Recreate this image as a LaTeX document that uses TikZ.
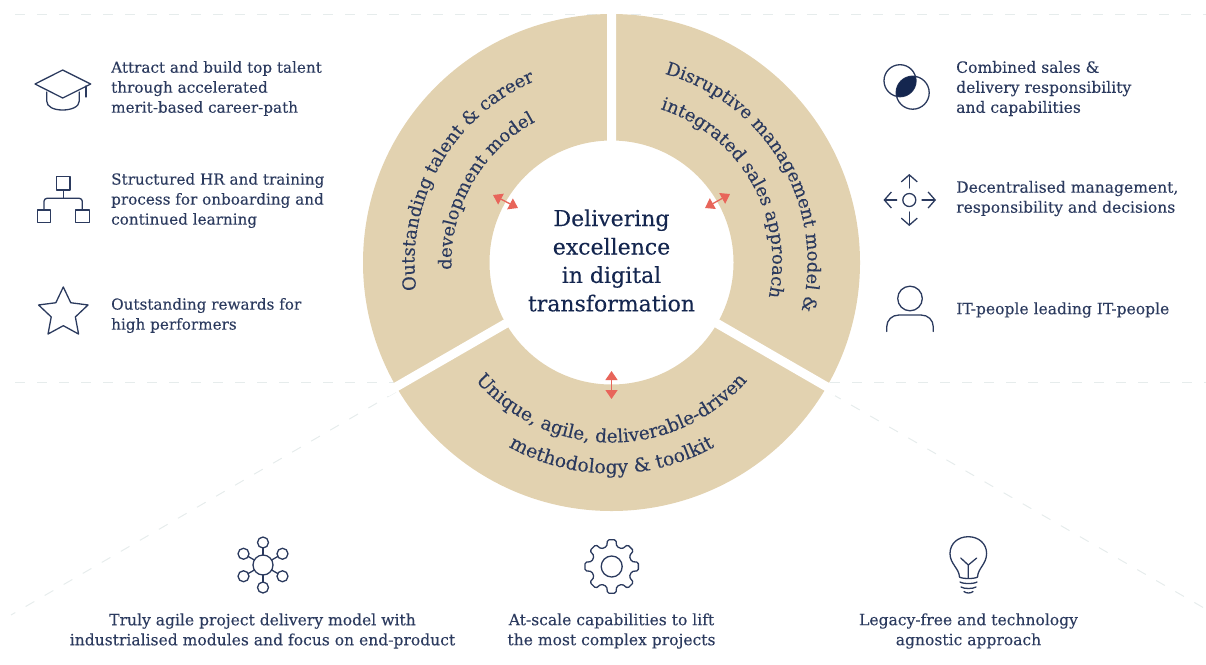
\documentclass[tikz,border=0pt]{standalone}
\usepackage{fontspec}
\usetikzlibrary{decorations.text,arrows.meta,shapes.geometric}
\newfontfamily\slab[FakeBold=0.15]{DejaVu Serif}
\definecolor{ink}{HTML}{2B3A5E}
\definecolor{navy}{HTML}{14264F}
\definecolor{sand}{HTML}{E2D2B0}
\definecolor{coral}{HTML}{E8655A}
\definecolor{dashc}{HTML}{E6ECEC}
\newcommand{\bodyf}{\slab\fontsize{15.2}{20}\selectfont}
\newcommand{\bodyg}{\slab\fontsize{15.55}{20}\selectfont}
\newcommand{\segf}{\slab\fontsize{18}{20}\selectfont\color{ink}}
\newcommand{\segg}{\slab\fontsize{18.5}{20}\selectfont\color{ink}}
\newcommand{\segh}{\slab\fontsize{19}{20}\selectfont\color{ink}}
\tikzset{
  label/.style={font=\bodyf,text=ink,align=left,anchor=west,inner sep=0pt},
  labelr/.style={font=\bodyg,text=ink,align=left,anchor=west,inner sep=0pt},
  labelc/.style={font=\bodyg,text=ink,align=center,anchor=center,inner sep=0pt},
  icon/.style={draw=ink,line width=1.3pt,line join=round,line cap=round,fill=none},
  guide/.style={draw=dashc,line width=1pt,dash pattern=on 10pt off 12pt},
  twoway/.style={draw=coral,line width=1.3pt,{Triangle[length=9pt,width=12pt]}-{Triangle[length=9pt,width=12pt]}},
  seg/.style={decorate,decoration={text along path,text align=center,text={#1}}},
  pointer/.style={icon,-{Straight Barb[length=7pt,width=16pt,line width=1.3pt]}}
}
\begin{document}
\begin{tikzpicture}[x=1pt,y=-1pt]
\useasboundingbox (0,0) rectangle (1206,664);
% guides
\coordinate (gt0) at (15,14); \coordinate (gt1) at (1206,14);
\coordinate (gl0) at (15,382); \coordinate (gl1) at (395,382);
\coordinate (gr0) at (830,382); \coordinate (gr1) at (1206,382);
\coordinate (dl0) at (396,392); \coordinate (dl1) at (11,615);
\coordinate (dr0) at (832,394); \coordinate (dr1) at (1204,608);
\foreach \a/\b in {gt0/gt1,gl0/gl1,gr0/gr1,dl0/dl1,dr0/dr1}{\draw[guide] (\a) -- (\b);}
% ring
\coordinate (c) at (611.5,262.5);
\begin{scope}[x=1pt,y=1pt,shift={(c)}]
  \fill[sand,even odd rule] (0,0) circle (248.5pt) (0,0) circle (122pt);
  \draw[white,line width=9pt] (0,0) -- (90:260) (0,0) -- (210:260) (0,0) -- (330:260);
  \fill[white] (0,0) circle (121pt);
  % left
  \path[seg={|\segf|Outstanding talent {\&} career}] (197:197) arc[start angle=197,end angle=104,radius=197pt];
  \path[seg={|\segf|development model}] (192:160) arc[start angle=192,end angle=109,radius=160pt];
  % right
  \path[seg={|\segf|Disruptive management model {\&}}] (85:196) arc[start angle=85,end angle=-25,radius=196pt];
  \path[seg={|\segf|integrated sales approach}] (83:161) arc[start angle=83,end angle=-23,radius=161pt];
  % bottom
  \path[seg={|\segg|Unique, agile, deliverable-driven}] (200:180) arc[start angle=200,end angle=340,radius=180pt];
  \path[seg={|\segh|methodology {\&} toolkit}] (225:211) arc[start angle=225,end angle=315,radius=211pt];
\end{scope}
\node[font=\slab\fontsize{22}{28.4}\selectfont,text=navy,align=center,inner sep=0pt] (hub) at (611.5,260.5) {Delivering\\excellence\\in digital\\transformation};
% arrows
\coordinate (a1) at (493,195); \coordinate (a2) at (518,208);
\coordinate (b1) at (730,194); \coordinate (b2) at (705,208);
\coordinate (d1) at (611.5,371); \coordinate (d2) at (611.5,399);
\draw[twoway] (a1) -- (a2);
\draw[twoway] (b1) -- (b2);
\draw[twoway] (d1) -- (d2);
% left labels
\node[label] (l1) at (111,88.5) {Attract and build top talent\\through accelerated\\merit-based career-path};
\node[label] (l2) at (111,200.5) {Structured HR and training\\process for onboarding and\\continued learning};
\node[label] (l3) at (111,315.5) {Outstanding rewards for\\high performers};
% right labels
\node[labelr] (r1) at (956,88.5) {Combined sales {\&}\\delivery responsibility\\and capabilities};
\node[labelr] (r2) at (956,198.5) {Decentralised management,\\responsibility and decisions};
\node[labelr] (r3) at (956,310) {IT-people leading IT-people};
% bottom labels
\node[labelc] (b1t) at (262.5,631) {Truly agile project delivery model with\\industrialised modules and focus on end-product};
\node[labelc] (b2t) at (611.5,631) {At-scale capabilities to lift\\the most complex projects};
\node[labelc] (b3t) at (968.5,631) {Legacy-free and technology\\agnostic approach};
% cap
\draw[icon] (62.7,70) -- (90.7,84) -- (62.7,98) -- (35,84) -- cycle;
\draw[icon] (46.7,92) -- (46.7,101) .. controls (46.7,107) and (54,110) .. (62.7,110) .. controls (71,110) and (79.3,107) .. (79.3,101) -- (79.3,92);
\draw[icon] (86,86) -- (86,97);
% org
\draw[icon] (56.7,176.7) rectangle (70,190);
\draw[icon] (37.3,210) rectangle (50.7,222.7);
\draw[icon] (75.3,210) rectangle (89.3,222.7);
\draw[icon] (63.3,190) -- (63.3,198.3);
\draw[icon,rounded corners=3pt] (44,210) -- (44,198.3) -- (82.3,198.3) -- (82.3,210);
% star
\node[star,star points=5,star point ratio=2.05,minimum size=52pt,inner sep=0pt,icon] (st) at (63.3,313) {};
% circles
\draw[icon] (900,80.7) circle (16pt);
\draw[icon] (912.7,92.7) circle (16.5pt);
\begin{scope}
  \clip (900,80.7) circle (16pt);
  \fill[navy] (912.7,92.7) circle (16.5pt);
\end{scope}
% decentral
\draw[icon] (909.3,200) circle (6.5pt);
\coordinate (ic0) at (909.3,188); \coordinate (ic1) at (909.3,174);
\coordinate (ic2) at (896.7,200); \coordinate (ic3) at (883.5,200);
\coordinate (ic4) at (922,200); \coordinate (ic5) at (936,200);
\coordinate (ic6) at (909.3,212); \coordinate (ic7) at (909.3,226);
\draw[pointer] (ic0) -- (ic1);
\draw[pointer] (ic2) -- (ic3);
\draw[pointer] (ic4) -- (ic5);
\draw[pointer] (ic6) -- (ic7);
% person
\draw[icon] (910,298.5) circle (12.3pt);
\draw[icon] (886.7,331.5) -- (886.7,327) .. controls (886.7,320) and (892,315) .. (899,315) -- (921,315) .. controls (928,315) and (933.3,320) .. (933.3,327) -- (933.3,331.5);
% network
\draw[icon] (263,565) circle (10pt);
\foreach \a in {30,90,150,210,270,330}{
  \begin{scope}[x=1pt,y=1pt,shift={(263,-565)}]
    \draw[icon] (\a:10) -- (\a:17);
    \draw[icon] (\a:22.5) circle (5.5pt);
  \end{scope}
}
% gear
\begin{scope}[x=1pt,y=1pt,shift={(611.7,-566.5)}]
  \draw[icon] (0,0) circle (10.5pt);
  \draw[icon,rounded corners=1.5pt] (-9:27) \foreach \a in {0,45,...,315}{ -- ({\a-9}:27) -- ({\a+9}:27) -- ({\a+14}:20.5) -- ({\a+31}:20.5) } -- cycle;
\end{scope}
% bulb
\draw[icon] (959.5,577) .. controls (959,568) and (950,564) .. (950,553.5) .. controls (950,543.5) and (958,536.7) .. (968.3,536.7) .. controls (978.5,536.7) and (986.6,543.5) .. (986.6,553.5) .. controls (986.6,564) and (978,568) .. (977.5,577);
\draw[icon] (959.5,577) .. controls (962,579) and (975,579) .. (977.5,577);
\draw[icon] (960,582) .. controls (963,584) and (974,584) .. (977,582);
\draw[icon] (961,587) .. controls (964,589) and (973,589) .. (976,587);
\draw[icon] (964,591.5) .. controls (966,593.5) and (971,593.5) .. (973,591.5);
\draw[icon] (968.3,578) -- (968.3,565) -- (960.7,558) (968.3,565) -- (976.7,558);
\end{tikzpicture}
\end{document}
